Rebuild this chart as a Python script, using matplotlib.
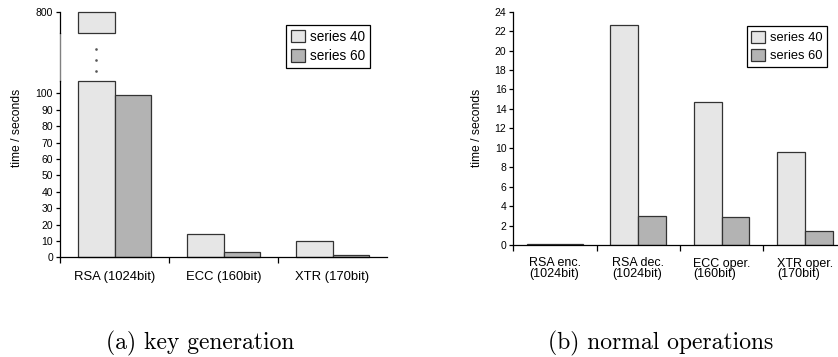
import numpy as np
import matplotlib.pyplot as plt
from matplotlib.transforms import blended_transform_factory

plt.rcParams['font.family'] = ['Liberation Sans', 'DejaVu Sans']

# (a) key generation
keygen_labels = ["RSA (1024bit)", "ECC (160bit)", "XTR (170bit)"]
keygen_s40 = np.array([800, 14, 10])
keygen_s60 = np.array([99, 3, 1.3])

# (b) normal operations
ops_labels = ["RSA enc.\n(1024bit)", "RSA dec.\n(1024bit)",
              "ECC oper.\n(160bit)", "XTR oper.\n(170bit)"]
ops_s40 = np.array([0.12, 22.6, 14.7, 9.6])
ops_s60 = np.array([0.06, 3.0, 2.85, 1.4])

series_names = ["series 40", "series 60"]

c40 = "#e6e6e6"
c60 = "#b3b3b3"
edge = "#333333"
bw = 0.335
W, H = 838, 357

fig = plt.figure(figsize=(W / 100, H / 100), dpi=100)


def px_axes(x0, x1, ytop, ybot):
    return fig.add_axes([x0 / W, (H - ybot) / H, (x1 - x0) / W, (ybot - ytop) / H])


def style(ax, n):
    for s in ["top", "right"]:
        ax.spines[s].set_visible(False)
    for s in ["left", "bottom"]:
        ax.spines[s].set_linewidth(0.9)
    ax.set_xlim(0, n)
    ax.set_xticks(np.arange(n))
    ax.set_xticklabels([])
    ax.tick_params(axis="x", which="major", direction="out", length=4.5, width=0.9)
    ax.tick_params(axis="y", direction="out", length=3, width=0.9, labelsize=7.5, pad=2)


def bars(ax, s40, s60, bottom=0, clip=True):
    x = np.arange(len(s40)) + 0.5
    b1 = ax.bar(x - bw / 2, s40, bw, bottom=bottom, color=c40, edgecolor=edge,
                linewidth=0.9, clip_on=clip)
    b2 = ax.bar(x + bw / 2, s60, bw, bottom=bottom, color=c60, edgecolor=edge,
                linewidth=0.9, clip_on=clip)
    return b1, b2


# ---- (a) broken axis ----
lo_max = 107.5
hi_lo = 700

ax_lo = px_axes(60, 387, 81, 257.3)
style(ax_lo, 3)
b1, b2 = bars(ax_lo, np.minimum(keygen_s40, lo_max), np.minimum(keygen_s60, lo_max), clip=False)
ax_lo.set_ylim(0, lo_max)
ax_lo.set_yticks(np.arange(0, 101, 10))
ax_lo.set_xticks(np.arange(3) + 0.5, keygen_labels, minor=True)
ax_lo.tick_params(axis="x", which="minor", length=0, labelsize=9.4, pad=10)

ax_hi = px_axes(60, 387, 12, 33)
big = keygen_s40 > lo_max
xh = np.arange(3)[big] + 0.5 - bw / 2
ax_hi.bar(xh, keygen_s40[big] - hi_lo, bw, bottom=hi_lo, color=c40, edgecolor=edge,
          linewidth=0.9, clip_on=False)
ax_hi.set_ylim(hi_lo, keygen_s40.max())
ax_hi.set_xlim(0, 3)
ax_hi.set_yticks([keygen_s40.max()])
ax_hi.set_xticks([])
for s in ["top", "right", "bottom"]:
    ax_hi.spines[s].set_visible(False)
ax_hi.spines["left"].set_linewidth(0.9)
ax_hi.tick_params(axis="y", direction="out", length=3, width=0.9, labelsize=7.5, pad=2)

# gap between the two parts
tr = blended_transform_factory(ax_lo.transData, ax_lo.transAxes)
gap_top = 1 + (81 - 33) / (257.3 - 81)
ax_lo.plot([0, 0], [1, gap_top], color="#808080", lw=1.0, transform=tr, clip_on=False)
ax_lo.plot([0.5 - bw / 2] * 3, [1.057, 1.119, 1.181], ls="none", marker="s",
           ms=0.8, color="#555555", transform=tr, clip_on=False)

fig.text(17.3 / W, 1 - 127.5 / H, "time / seconds", rotation=90, ha="center",
         va="center", fontsize=8.7)
fig.legend([b1, b2], series_names, loc="upper right",
           bbox_to_anchor=(370 / W, 1 - 25 / H), fontsize=9.8, frameon=True,
           fancybox=False, framealpha=1, edgecolor="black", borderpad=0.35,
           handlelength=1.05, handleheight=1.05, handletextpad=0.35,
           labelspacing=0.4, borderaxespad=0).get_frame().set_linewidth(0.9)

# ---- (b) ----
ax_b = px_axes(513.3, 513.3 + 4 * 83.3, 11.7, 245)
style(ax_b, 4)
c1, c2 = bars(ax_b, ops_s40, ops_s60)
ax_b.set_ylim(0, 24)
ax_b.set_yticks(np.arange(0, 25, 2))
ax_b.set_xticks(np.arange(4) + 0.5, ops_labels, minor=True)
ax_b.tick_params(axis="x", which="minor", length=0, labelsize=9, pad=9)
for t in ax_b.get_xticklabels(minor=True):
    t.set_multialignment("left")
    t.set_linespacing(0.85)

fig.text(476.7 / W, 1 - 127.5 / H, "time / seconds", rotation=90, ha="center",
         va="center", fontsize=8.7)
fig.legend([c1, c2], series_names, loc="upper right",
           bbox_to_anchor=(826.7 / W, 1 - 26 / H), fontsize=9.3, frameon=True,
           fancybox=False, framealpha=1, edgecolor="black", borderpad=0.35,
           handlelength=1.05, handleheight=1.05, handletextpad=0.35,
           labelspacing=0.4, borderaxespad=0).get_frame().set_linewidth(0.9)

# captions
fig.text(200 / W, 1 - 343 / H, "(a) key generation", family="cmr10",
         fontsize=17, ha="center", va="center")
fig.text(661 / W, 1 - 343 / H, "(b) normal operations", family="cmr10",
         fontsize=17, ha="center", va="center")

fig.savefig("out.png", dpi=100)
